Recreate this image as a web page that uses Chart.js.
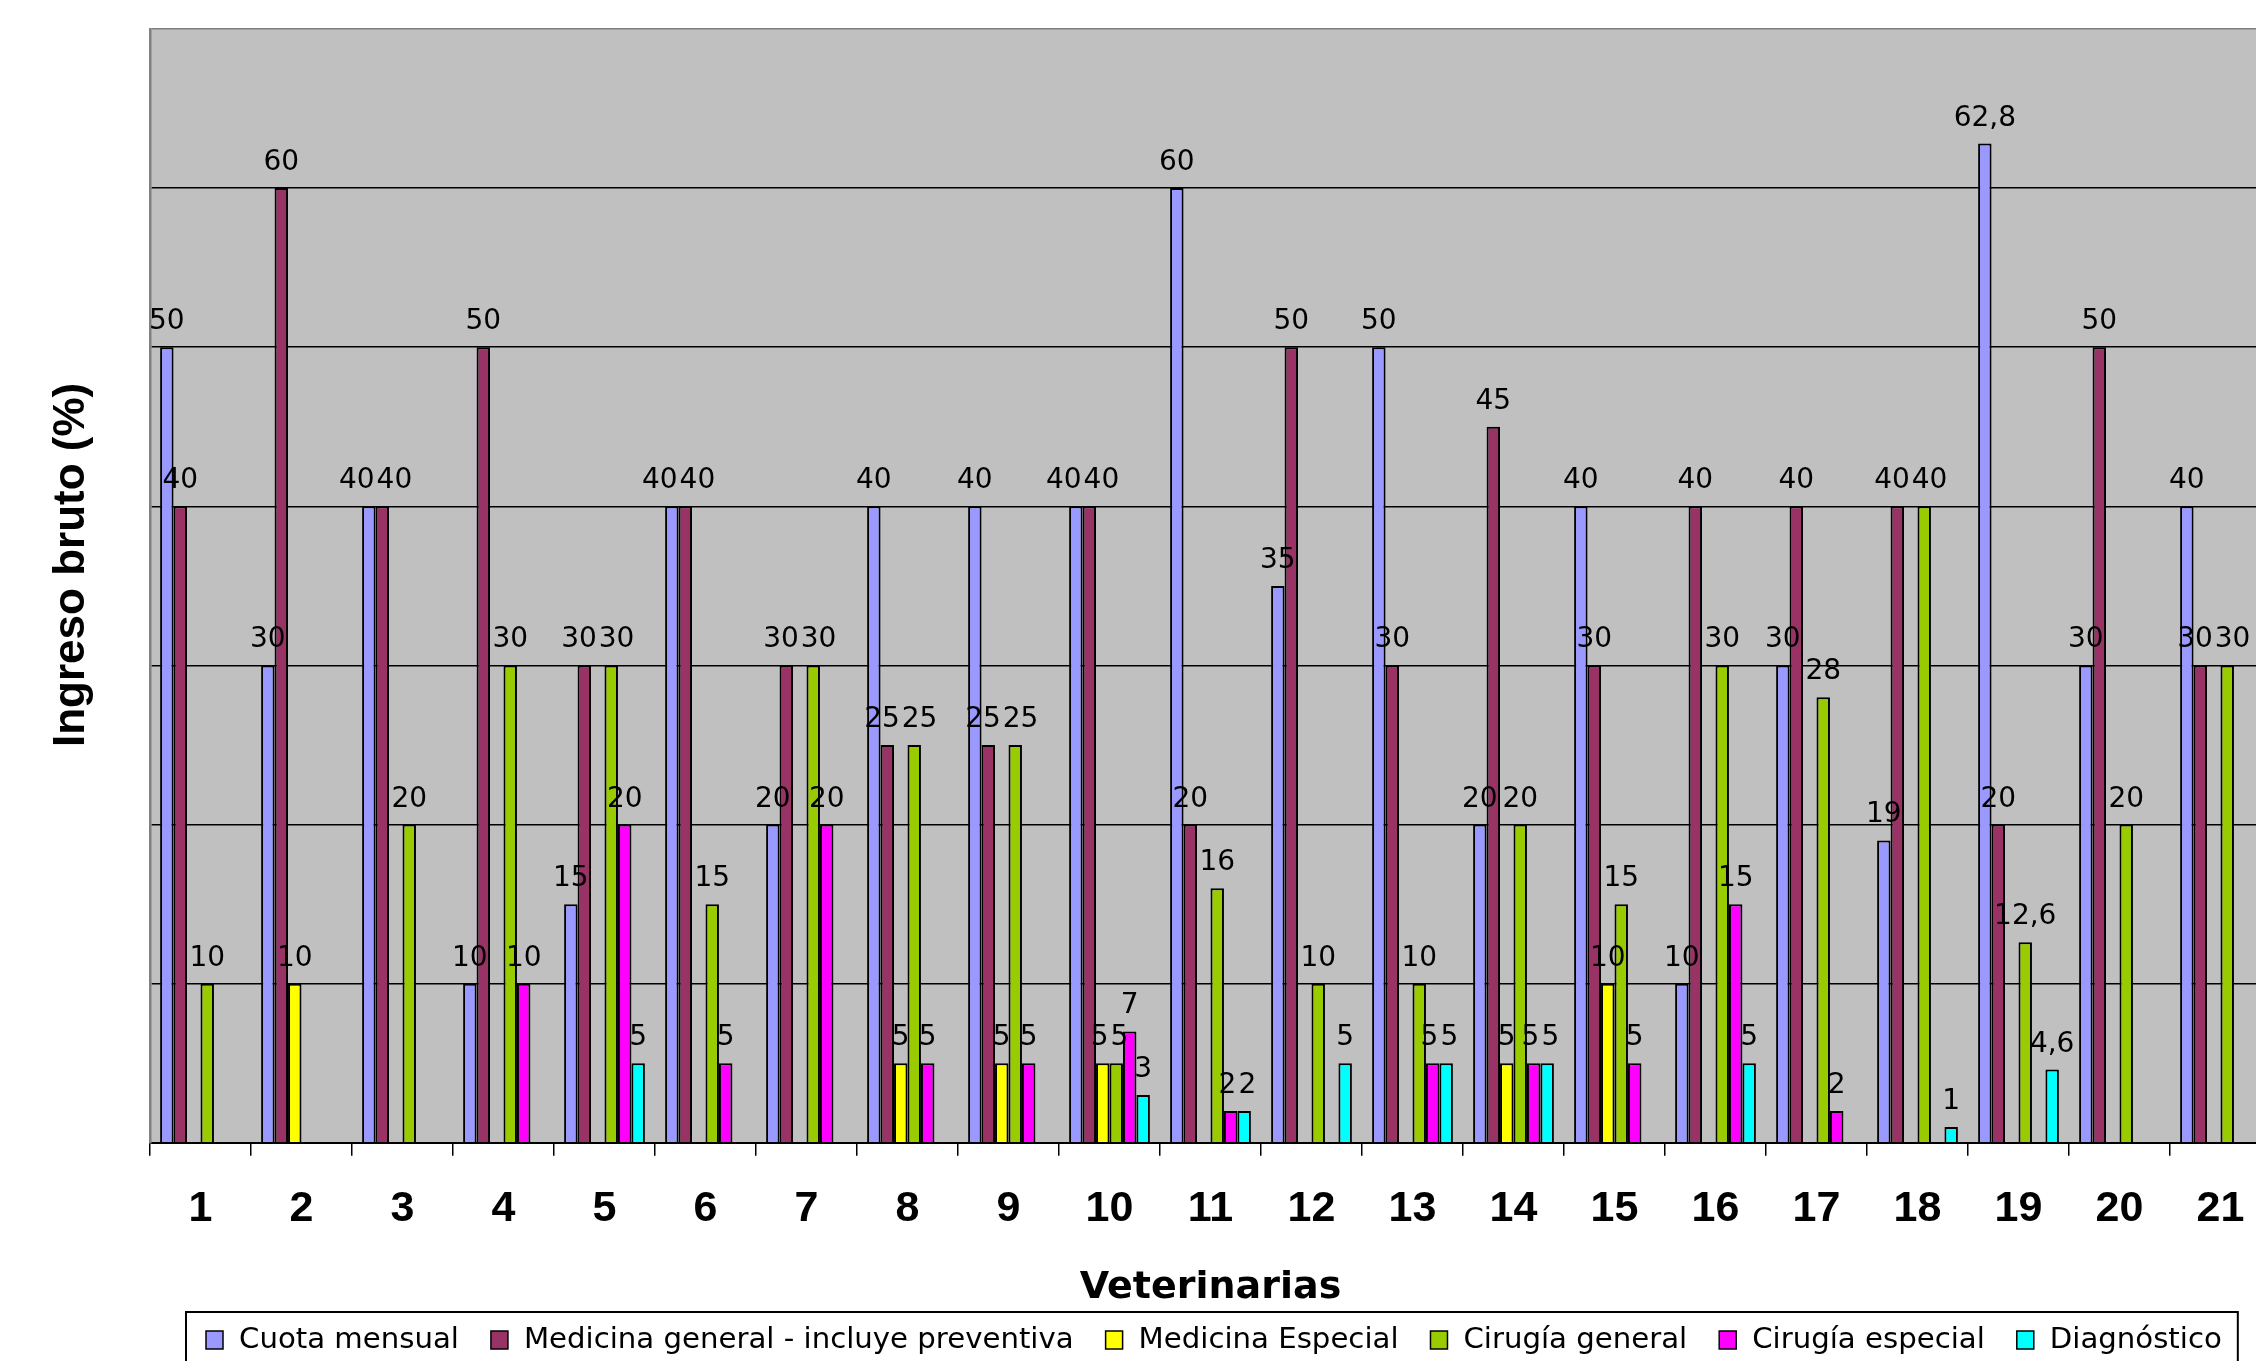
<!DOCTYPE html>
<html>
<head>
<meta charset="utf-8">
<script src="https://cdn.jsdelivr.net/npm/chart.js@4.4.1/dist/chart.umd.min.js"></script>
<style>
  html, body { margin: 0; padding: 0; background: #ffffff; overflow: hidden; width: 2256px; height: 1361px; }
  #wrap { position: absolute; left: 0; top: 0; width: 2290px; height: 1400px; }
  canvas { display: block; }
</style>
</head>
<body>
<div id="wrap"><canvas id="chart" width="2290" height="1400"></canvas></div>
<script>
// ---- data ----
const categories = ['1','2','3','4','5','6','7','8','9','10','11','12','13','14','15','16','17','18','19','20','21'];
const cuotaMensual     = [50, 30, 40, 10, 15, 40, 20, 40, 40, 40, 60, 35, 50, 20, 40, 10, 30, 19, 62.8, 30, 40];
const medicinaGeneral  = [40, 60, 40, 50, 30, 40, 30, 25, 25, 40, 20, 50, 30, 45, 30, 40, 40, 40, 20, 50, 30];
const medicinaEspecial = [null, 10, null, null, null, null, null, 5, 5, 5, null, null, null, 5, 10, null, null, null, null, null, null];
const cirugiaGeneral   = [10, null, 20, 30, 30, 15, 30, 25, 25, 5, 16, 10, 10, 20, 15, 30, 28, 40, 12.6, 20, 30];
const cirugiaEspecial  = [null, null, null, 10, 20, 5, 20, 5, 5, 7, 2, null, 5, 5, 5, 15, 2, null, null, null, null];
const diagnostico      = [null, null, null, null, 5, null, null, null, null, 3, 2, 5, 5, 5, null, 5, null, 1, 4.6, null, null];
const seriesNames  = ['Cuota mensual', 'Medicina general - incluye preventiva', 'Medicina Especial', 'Cirugía general', 'Cirugía especial', 'Diagnóstico'];
const seriesColors = ['#9999FF', '#993366', '#FFFF00', '#99CC00', '#FF00FF', '#00FFFF'];
const seriesValues = [cuotaMensual, medicinaGeneral, medicinaEspecial, cirugiaGeneral, cirugiaEspecial, diagnostico];
const yMin = 0, yMax = 70, yStep = 10;
const xTitle = 'Veterinarias';
const yTitle = 'Ingreso bruto (%)';

// ---- plugins ----
const plotBackground = {
  id: 'plotBackground',
  beforeDraw(chart) {
    const {ctx, chartArea: a} = chart;
    ctx.save();
    ctx.fillStyle = '#C0C0C0';
    ctx.fillRect(a.left, a.top, a.right - a.left, a.bottom - a.top);
    ctx.restore();
  },
  afterDraw(chart) {
    const {ctx, chartArea: a} = chart;
    ctx.save();
    ctx.strokeStyle = '#808080';
    ctx.lineWidth = 2.5;
    ctx.beginPath();
    ctx.moveTo(a.right, a.top);
    ctx.lineTo(a.right, a.bottom);
    ctx.stroke();
    ctx.restore();
  }
};

const valueLabels = {
  id: 'valueLabels',
  afterDatasetsDraw(chart) {
    const ctx = chart.ctx;
    ctx.save();
    ctx.font = '28px "DejaVu Sans"';
    ctx.fillStyle = '#000000';
    ctx.textAlign = 'center';
    ctx.textBaseline = 'alphabetic';
    const n = chart.data.labels.length;
    for (let i = 0; i < n; i++) {
      const items = [];
      chart.data.datasets.forEach((ds, d) => {
        const v = ds.data[i];
        if (v === null || v === undefined) return;
        const el = chart.getDatasetMeta(d).data[i];
        const text = String(v).replace('.', ',');
        const w = ctx.measureText(text).width;
        const base = el.y - 18;
        items.push({text, x: el.x, w, base, top: base - 21, bottom: base});
      });
      for (let it = 0; it < 40; it++) {
        for (let a = 0; a < items.length; a++) {
          for (let b = a + 1; b < items.length; b++) {
            const A = items[a], B = items[b];
            if (A.top >= B.bottom || B.top >= A.bottom) continue;
            const need = (A.w + B.w) / 2 + 2;
            const dist = B.x - A.x;
            if (dist < need) {
              const push = (need - dist) / 2;
              A.x -= push; B.x += push;
            }
          }
        }
      }
      items.forEach(t => ctx.fillText(t.text, t.x, t.base));
    }
    ctx.restore();
  }
};

const boxedLegend = {
  id: 'boxedLegend',
  afterDraw(chart) {
    const ctx = chart.ctx;
    const a = chart.chartArea;
    const xs = chart.scales.x;
    ctx.save();
    ctx.font = '29.2px "DejaVu Sans"';
    const top = xs.bottom + 1;
    const cy = top + 28;
    const startX = a.left + 36;
    const gap = 32;
    let x = a.left + 56;
    chart.data.datasets.forEach(ds => {
      ctx.fillStyle = ds.backgroundColor;
      ctx.fillRect(x, cy - 9, 17, 18);
      ctx.strokeStyle = '#000000';
      ctx.lineWidth = 1.5;
      ctx.strokeRect(x, cy - 9, 17, 18);
      ctx.fillStyle = '#000000';
      ctx.textAlign = 'left';
      ctx.textBaseline = 'middle';
      ctx.fillText(ds.label, x + 33, cy);
      x += 33 + ctx.measureText(ds.label).width + gap;
    });
    const endX = x - gap + 16;
    ctx.strokeStyle = '#000000';
    ctx.lineWidth = 2;
    ctx.strokeRect(startX, top, endX - startX, 70);

    // y axis title
    ctx.translate(72, (a.top + a.bottom) / 2 - 21);
    ctx.rotate(-Math.PI / 2);
    ctx.font = 'bold 44px "Liberation Sans"';
    ctx.textAlign = 'center';
    ctx.textBaseline = 'middle';
    ctx.fillStyle = '#000000';
    ctx.fillText(yTitle, 0, 0);
    ctx.restore();
  }
};

// ---- chart ----
const datasets = seriesNames.map((name, i) => ({
  label: name,
  data: seriesValues[i],
  backgroundColor: seriesColors[i],
  borderColor: '#000000',
  borderWidth: 2,
  barPercentage: 1.0,
  categoryPercentage: 0.8
}));

new Chart(document.getElementById('chart'), {
  type: 'bar',
  data: { labels: categories, datasets },
  plugins: [plotBackground, valueLabels, boxedLegend],
  options: {
    responsive: false,
    animation: false,
    layout: { padding: { left: 0, top: 29, right: 19, bottom: 89 } },
    plugins: { legend: { display: false }, tooltip: { enabled: false } },
    scales: {
      x: {
        grid: { offset: true, drawOnChartArea: false, drawTicks: true, tickLength: 13, color: '#000000', lineWidth: 1.5 },
        border: { color: '#000000', width: 2 },
        ticks: { color: '#000000', padding: 28, font: { family: 'Liberation Sans', size: 43, weight: 'bold' } },
        title: { display: true, text: xTitle, color: '#000000', padding: { top: 2, bottom: 0 },
                 font: { family: 'DejaVu Sans', size: 38, weight: 'bold' } }
      },
      y: {
        min: yMin, max: yMax,
        afterFit(scale) { scale.width = 150; },
        ticks: { display: false, stepSize: yStep },
        grid: { drawTicks: false, lineWidth: 1.5,
                color: c => (c.tick && c.tick.value === yMax) ? '#808080' : '#000000' },
        border: { color: '#808080', width: 2.5 }
      }
    }
  }
});
</script>
</body>
</html>
